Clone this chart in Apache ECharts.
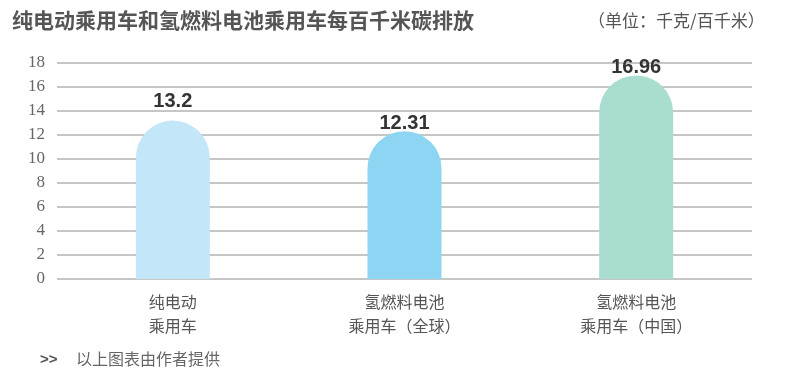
<!DOCTYPE html>
<html><head><meta charset="utf-8">
<script src="https://cdn.jsdelivr.net/npm/echarts@6/dist/echarts.min.js"></script>
<style>html,body{margin:0;padding:0;background:#fff}#c{width:785px;height:369px}</style>
</head><body><div id="c"></div>
<script>
const categories = ['纯电动\n乘用车', '氢燃料电池\n乘用车（全球）', '氢燃料电池\n乘用车（中国）'];
const values = [13.2, 12.31, 16.96];
const labels = ['13.2', '12.31', '16.96'];
const colors = ['#c3e6f8', '#8dd5f2', '#a9ddd0'];
const yTicks = [0, 2, 4, 6, 8, 10, 12, 14, 16, 18];
const labelGaps = [9, -2, -2];

const chart = echarts.init(document.getElementById('c'));
chart.setOption({
  animation: false,
  title: [
    {text: '纯电动乘用车和氢燃料电池乘用车每百千米碳排放', left: 7, top: 5,
     textStyle: {fontFamily: 'Noto Sans CJK SC', fontSize: 21, fontWeight: 'bold', color: '#555'}},
    {text: '（单位：千克/百千米）', left: 583, top: 7,
     textStyle: {fontFamily: 'Noto Sans CJK SC', fontSize: 17, fontWeight: 'normal', color: '#555'}},
    {text: '>>', left: 35, top: 347,
     textStyle: {fontFamily: 'Liberation Sans', fontSize: 15, fontWeight: 'bold', color: '#555'}},
    {text: '以上图表由作者提供', left: 71, top: 346,
     textStyle: {fontFamily: 'Noto Sans CJK SC', fontSize: 16, fontWeight: 'normal', color: '#666'}}
  ],
  grid: {left: 57, right: 33, top: 63, bottom: 90},
  xAxis: {
    type: 'category', data: categories,
    axisLine: {show: false}, axisTick: {show: false},
    axisLabel: {fontFamily: 'Noto Sans CJK SC', fontSize: 16, color: '#555', lineHeight: 24, margin: 11}
  },
  yAxis: {
    type: 'value', min: 0, max: 18, interval: 2,
    axisLine: {show: false}, axisTick: {show: false},
    axisLabel: {fontFamily: '"Liberation Serif", "DejaVu Serif", serif', fontSize: 17, color: '#666', margin: 12,
      formatter: v => yTicks.includes(v) ? String(v) : ''},
    splitLine: {lineStyle: {color: '#c6c6c6', width: 2}}
  },
  series: [{
    type: 'bar', barWidth: 74, z: 3,
    data: values.map((v, i) => ({value: v, itemStyle: {color: colors[i], borderRadius: [37, 37, 0, 0]},
      label: {distance: labelGaps[i]}})),
    label: {show: true, position: 'top',
      formatter: p => labels[p.dataIndex],
      fontFamily: 'Liberation Sans', fontSize: 20, fontWeight: 'bold', color: '#333'}
  }]
});
</script></body></html>
